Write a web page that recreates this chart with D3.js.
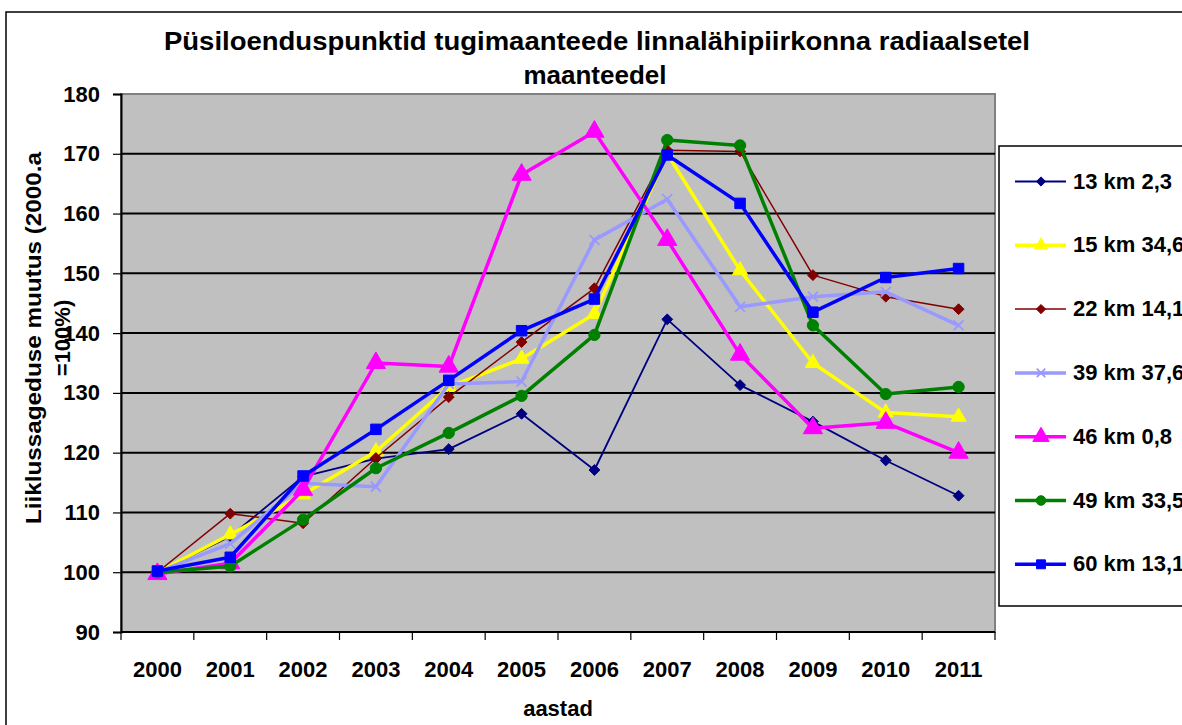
<!DOCTYPE html>
<html>
<head>
<meta charset="utf-8">
<script src="https://cdn.jsdelivr.net/npm/d3@7"></script>
<style>
  body { margin: 0; background: #fff; }
  svg { display: block; font-family: Arial, "Liberation Sans", sans-serif; font-weight: bold; }
</style>
</head>
<body>
<div id="chart"></div>
<script>
// andmed
const years = ["2000", "2001", "2002", "2003", "2004", "2005", "2006", "2007", "2008", "2009", "2010", "2011"];
const seriesNames = ["13 km 2,3", "15 km 34,6", "22 km 14,1", "39 km 37,6", "46 km 0,8", "49 km 33,5", "60 km 13,1"];
const km13 = [100, 106, 116, 119, 120.6, 126.5, 117.1, 142.3, 131.3, 125.2, 118.7, 112.8];
const km15 = [100, 106.3, 113, 120.2, 131, 135.7, 143.2, 170, 150.5, 135, 126.7, 126];
const km22 = [100, 109.8, 108.2, 119.1, 129.3, 138.5, 147.5, 170.6, 170.4, 149.7, 146.1, 144];
const km39 = [100, 104.8, 114.9, 114.3, 131.5, 131.9, 155.6, 162.4, 144.4, 146.1, 146.9, 141.3];
const km46 = [99.7, 101.5, 113.8, 135, 134.4, 166.5, 173.7, 155.6, 136.4, 124.1, 125, 120];
const km49 = [100, 101, 108.8, 117.4, 123.3, 129.5, 139.7, 172.3, 171.4, 141.3, 129.8, 131];
const km60 = [100.2, 102.5, 116.1, 123.9, 132.1, 140.4, 145.7, 169.8, 161.7, 143.5, 149.3, 150.8];
const yTicks = [90, 100, 110, 120, 130, 140, 150, 160, 170, 180];

const series = [
  { name: seriesNames[0], values: km13, color: "#000080", width: 1.8, marker: "diamond", size: 75 },
  { name: seriesNames[1], values: km15, color: "#FFFF00", width: 3.5, marker: "triangle", size: 100 },
  { name: seriesNames[2], values: km22, color: "#800000", width: 1.5, marker: "diamond", size: 75 },
  { name: seriesNames[3], values: km39, color: "#9999FF", width: 3.5, marker: "x", size: 5 },
  { name: seriesNames[4], values: km46, color: "#FF00FF", width: 3.5, marker: "triangle", size: 160 },
  { name: seriesNames[5], values: km49, color: "#008000", width: 3.5, marker: "circle", size: 100 },
  { name: seriesNames[6], values: km60, color: "#0000FF", width: 3.5, marker: "square", size: 110 }
];

const width = 1182, height = 725;
const plot = { left: 121, right: 995, top: 94, bottom: 632 };
const fontSize = 22;

const svg = d3.select("#chart").append("svg")
  .attr("width", width)
  .attr("height", height);

// välimine raam
svg.append("rect")
  .attr("x", 6).attr("y", 12)
  .attr("width", 1200).attr("height", 740)
  .attr("fill", "#fff")
  .attr("stroke", "#000")
  .attr("stroke-width", 1.5);

const x = d3.scaleBand().domain(years).range([plot.left, plot.right]);
const y = d3.scaleLinear().domain([90, 180]).range([plot.bottom, plot.top]);

// joonise ala
svg.append("rect")
  .attr("x", plot.left).attr("y", plot.top)
  .attr("width", plot.right - plot.left).attr("height", plot.bottom - plot.top)
  .attr("fill", "#C0C0C0")
  .attr("stroke", "#808080")
  .attr("stroke-width", 2);

// ruudustik
svg.append("g")
  .selectAll("line")
  .data(yTicks.slice(1, -1))
  .join("line")
  .attr("x1", plot.left).attr("x2", plot.right)
  .attr("y1", d => y(d)).attr("y2", d => y(d))
  .attr("stroke", "#000")
  .attr("stroke-width", 2);

// y telg
svg.append("g")
  .attr("transform", `translate(${plot.left},0)`)
  .call(d3.axisLeft(y).tickValues(yTicks).tickSize(8).tickPadding(13))
  .call(g => g.select(".domain").attr("stroke-width", 2))
  .call(g => g.selectAll("line").attr("stroke-width", 1.2))
  .call(g => g.selectAll("text")
    .attr("font-size", fontSize).attr("font-weight", "bold")
    .attr("font-family", "Arial, 'Liberation Sans', sans-serif").attr("fill", "#000"));

// x telg
const xAxis = svg.append("g")
  .attr("transform", `translate(0,${plot.bottom})`);
xAxis.append("line")
  .attr("x1", plot.left).attr("x2", plot.right)
  .attr("stroke", "#000").attr("stroke-width", 2);
xAxis.selectAll(".tick-line")
  .data(years.concat(["end"]))
  .join("line")
  .attr("x1", (d, i) => plot.left + i * x.step())
  .attr("x2", (d, i) => plot.left + i * x.step())
  .attr("y1", 0).attr("y2", 8)
  .attr("stroke", "#000").attr("stroke-width", 1.2);
xAxis.selectAll("text")
  .data(years)
  .join("text")
  .attr("x", d => x(d) + x.bandwidth() / 2)
  .attr("y", 45)
  .attr("text-anchor", "middle")
  .attr("font-size", fontSize)
  .text(d => d);

// pealkiri
svg.append("text")
  .attr("x", 597).attr("y", 50)
  .attr("text-anchor", "middle")
  .attr("font-size", 26)
  .attr("textLength", 866)
  .attr("lengthAdjust", "spacingAndGlyphs")
  .text("Püsiloenduspunktid tugimaanteede linnalähipiirkonna radiaalsetel");
svg.append("text")
  .attr("x", 595).attr("y", 84)
  .attr("text-anchor", "middle")
  .attr("font-size", 26)
  .text("maanteedel");

// telgede pealkirjad
svg.append("text")
  .attr("x", 558).attr("y", 716)
  .attr("text-anchor", "middle")
  .attr("font-size", fontSize)
  .text("aastad");

const yTitle = svg.append("g").attr("transform", "translate(0,338) rotate(-90)");
yTitle.append("text")
  .attr("x", 0).attr("y", 41)
  .attr("text-anchor", "middle")
  .attr("font-size", fontSize)
  .attr("textLength", 372)
  .attr("lengthAdjust", "spacingAndGlyphs")
  .text("Liiklussageduse muutus (2000.a");
yTitle.append("text")
  .attr("x", 0).attr("y", 70)
  .attr("text-anchor", "middle")
  .attr("font-size", fontSize)
  .text("=100%)");

// markerid
function drawMarker(g, s, cx, cy, scale) {
  const k = scale || 1;
  if (s.marker === "x") {
    const r = s.size * k;
    g.append("path")
      .attr("d", `M${cx - r},${cy - r}L${cx + r},${cy + r}M${cx - r},${cy + r}L${cx + r},${cy - r}`)
      .attr("stroke", s.color).attr("stroke-width", 1.8).attr("fill", "none");
    return;
  }
  const typeMap = { diamond: d3.symbolDiamond2, triangle: d3.symbolTriangle, circle: d3.symbolCircle, square: d3.symbolSquare };
  g.append("path")
    .attr("transform", `translate(${cx},${cy})`)
    .attr("d", d3.symbol(typeMap[s.marker], s.size * k * k)())
    .attr("fill", s.color)
    .attr("stroke", s.color)
    .attr("stroke-width", 1);
}

const line = d3.line()
  .x((d, i) => x(years[i]) + x.bandwidth() / 2)
  .y(d => y(d));

const lines = svg.append("g");
series.forEach(s => {
  const g = lines.append("g");
  g.append("path")
    .attr("d", line(s.values))
    .attr("fill", "none")
    .attr("stroke", s.color)
    .attr("stroke-width", s.width)
    .attr("stroke-linejoin", "round");
  s.values.forEach((v, i) => drawMarker(g, s, x(years[i]) + x.bandwidth() / 2, y(v)));
});

// legend
const legend = svg.append("g");
legend.append("rect")
  .attr("x", 999).attr("y", 146)
  .attr("width", 240).attr("height", 460)
  .attr("fill", "#fff")
  .attr("stroke", "#000")
  .attr("stroke-width", 1.5);

series.forEach((s, i) => {
  const ly = 181.5 + i * 63.8;
  const g = legend.append("g");
  g.append("line")
    .attr("x1", 1015).attr("x2", 1066)
    .attr("y1", ly).attr("y2", ly)
    .attr("stroke", s.color)
    .attr("stroke-width", s.width);
  drawMarker(g, s, 1041, ly, 0.85);
  g.append("text")
    .attr("x", 1073).attr("y", ly + 7)
    .attr("font-size", fontSize)
    .text(s.name);
});
</script>
</body>
</html>
